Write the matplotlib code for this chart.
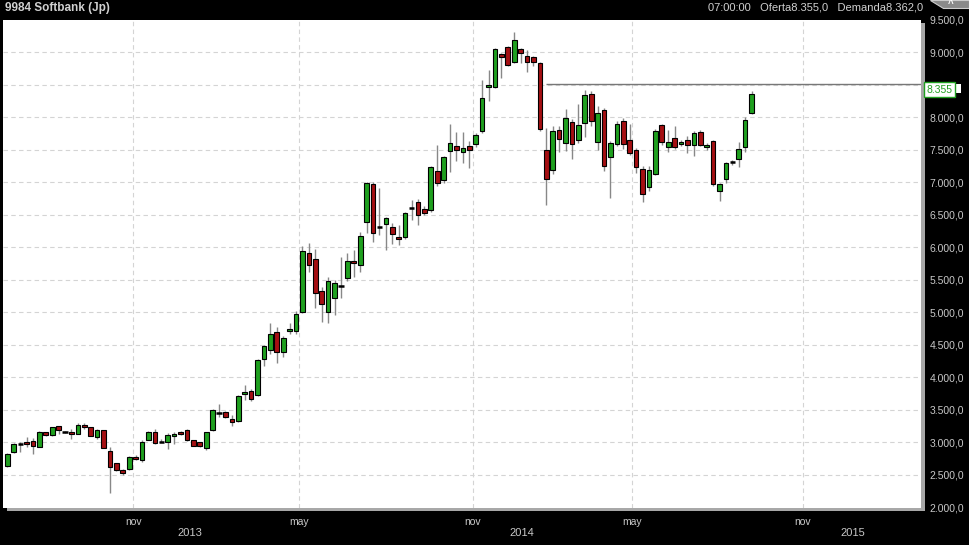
import numpy as np
import matplotlib.pyplot as plt
from matplotlib.patches import Rectangle, Polygon

plt.rcParams['font.family'] = ['Liberation Sans', 'DejaVu Sans']

# weekly candles
opens = [2643, 2847, 2970, 3000, 3015, 2924, 3153, 3107, 3245, 3163,
         3163, 3128, 3265, 3230, 3077, 3184, 2862, 2679, 2577, 2587,
         2770, 2730, 3041, 3168, 3005, 3010, 3092, 3168, 3189, 3031,
         3000, 2908, 3184, 3454, 3474, 3367, 3332, 3738, 3794, 3727,
         4276, 4420, 4692, 4384, 4713, 4718, 5000, 5908, 5826, 5333,
         5000, 5215, 5410, 5523, 5795, 5728, 6394, 6969, 6317, 6353,
         6317, 6153, 6153, 6610, 6692, 6584, 6569, 7179, 7036, 7472,
         7559, 7461, 7554, 7584, 7781, 8462, 8457, 8974, 9077, 8846,
         9051, 8944, 8923, 8831, 7500, 7182, 7807, 7602, 7925, 7643,
         7909, 8355, 7618, 8114, 7387, 7587, 7945, 7653, 7490, 7203,
         6926, 7126, 7879, 7541, 7679, 7587, 7653, 7577, 7771, 7541,
         7629, 6857, 7055, 7314, 7350, 7543, 8066]
highs = [2832, 2985, 3000, 3077, 3061, 3178, 3168, 3240, 3260, 3178,
         3214, 3306, 3301, 3235, 3199, 3190, 2934, 2690, 2592, 2791,
         2806, 3036, 3180, 3200, 3056, 3138, 3158, 3175, 3200, 3040,
         3010, 3163, 3510, 3586, 3480, 3420, 3727, 3882, 3815, 4276,
         4492, 4830, 4780, 4635, 4841, 5021, 6021, 6072, 5969, 5385,
         5549, 5497, 5856, 5918, 5959, 6241, 6995, 6995, 6913, 6472,
         6369, 6343, 6549, 6728, 6748, 6636, 7241, 7574, 7405, 7897,
         7764, 7774, 7626, 7754, 8575, 8728, 9061, 8984, 9087, 9302,
         9061, 9035, 8933, 8841, 7833, 7869, 7869, 8125, 7971, 8207,
         8422, 8396, 8176, 8140, 7628, 7935, 7986, 7899, 7526, 7244,
         7244, 7817, 7894, 7807, 7868, 7648, 7715, 7781, 7807, 7602,
         7654, 6985, 7314, 7340, 7618, 8000, 8401]
lows = [2628, 2832, 2847, 2934, 2822, 2924, 3097, 3100, 3122, 3148,
        3046, 3122, 3214, 3092, 3046, 2913, 2220, 2560, 2495, 2577,
        2730, 2705, 3030, 2970, 3000, 2893, 2970, 3110, 3025, 2940,
        2930, 2882, 3180, 3393, 3380, 3250, 3317, 3651, 3640, 3717,
        4179, 4358, 4215, 4307, 4672, 4672, 4985, 5625, 5061, 4856,
        4841, 4954, 5215, 5487, 5549, 5626, 6215, 6087, 6190, 5958,
        6046, 6036, 6122, 6420, 6343, 6497, 6549, 6944, 6984, 7149,
        7318, 7287, 7221, 7548, 7755, 8242, 8447, 8600, 8790, 8830,
        8830, 8700, 8780, 7781, 6655, 7131, 7459, 7474, 7357, 7602,
        7694, 7869, 7490, 7167, 6757, 7551, 7510, 7423, 7142, 6691,
        6860, 7116, 7577, 7459, 7510, 7551, 7449, 7403, 7551, 7490,
        6944, 6705, 6985, 7263, 7228, 7457, 8050]
closes = [2816, 2975, 2970, 2970, 2944, 3168, 3107, 3230, 3184, 3163,
          3122, 3275, 3230, 3092, 3184, 2913, 2618, 2572, 2526, 2770,
          2740, 3005, 3168, 2995, 3005, 3107, 3128, 3122, 3031, 2944,
          2939, 3153, 3505, 3454, 3388, 3321, 3717, 3779, 3661, 4266,
          4482, 4661, 4384, 4599, 4744, 4980, 5949, 5723, 5292, 5128,
          5487, 5446, 5410, 5795, 5754, 6180, 6984, 6215, 6317, 6446,
          6199, 6122, 6523, 6610, 6492, 6523, 7231, 6984, 7384, 7600,
          7492, 7523, 7492, 7723, 8293, 8498, 9051, 8923, 8800, 9189,
          8980, 8846, 8846, 7817, 7049, 7792, 7664, 7986, 7587, 7879,
          8340, 7935, 8063, 7254, 7602, 7894, 7587, 7449, 7234, 6819,
          7182, 7792, 7612, 7612, 7541, 7618, 7577, 7756, 7577, 7577,
          6969, 6969, 7289, 7314, 7517, 7949, 8355]

month_pos = [19.64, 45.5, 72.53, 97.3, 124.0]
month_lbl = ["nov", "may", "nov", "may", "nov"]
year_pos = [28.47, 80.26, 131.8]
year_lbl = ["2013", "2014", "2015"]
y_ticks = np.arange(2000, 9501, 500)
level_start = 84
level_price = 8513
last_price = 8355

W, H = 969, 545
fig = plt.figure(figsize=(W / 100, H / 100), dpi=100, facecolor="black")

# grey shadow behind the plot panel
fig.patches.append(Rectangle((7 / W, (H - 511) / H), (925 - 7) / W, (511 - 23) / H,
                             transform=fig.transFigure, facecolor="#a8a8a8",
                             edgecolor="none", zorder=-5))

ax = fig.add_axes([3 / W, (H - 507.5) / H, (921 - 3) / W, (507.5 - 19.5) / H])
ax.set_facecolor("white")
for s in ax.spines.values():
    s.set_visible(False)

x = np.arange(len(opens))
o = np.array(opens)
c = np.array(closes)
up = c > o
dn = c < o
flat = c == o

ax.vlines(x, lows, highs, color="#888888", lw=1, zorder=2)
ax.bar(x[up], (c - o)[up], bottom=o[up], width=0.72, color="#1fa01f",
       edgecolor="black", lw=0.8, zorder=3)
ax.bar(x[dn], (o - c)[dn], bottom=c[dn], width=0.72, color="#a50f12",
       edgecolor="black", lw=0.8, zorder=3)
ax.hlines(c[flat], x[flat] - 0.4, x[flat] + 0.4, color="black", lw=1.8, zorder=3)

# grid
for yv in y_ticks[1:-1]:
    ax.axhline(yv, color="#d4d4d4", lw=0.8, ls=(0, (4, 3)), zorder=1)
for xv in month_pos:
    ax.axvline(xv, color="#d4d4d4", lw=0.8, ls=(0, (4, 3)), zorder=1)

ax.set_xlim(-0.67, 142.4)
ax.set_ylim(2000, 9500)

# level line
ax.hlines(level_price, level_start, 142.4, color="#777777", lw=1, zorder=4)

# the 8.500 label sits under the price tag in the original
ylabels = [f"{v:,.0f}".replace(",", ".") + ",0" for v in y_ticks]
ylabels[list(y_ticks).index(8500)] = ""
ax.yaxis.tick_right()
ax.set_yticks(y_ticks)
ax.set_yticklabels(ylabels)
ax.tick_params(axis="y", length=0, pad=6, labelsize=7.5, labelcolor="#c8c8c8")
ax.set_xticks(month_pos)
ax.set_xticklabels(month_lbl)
ax.tick_params(axis="x", length=0, pad=7, labelsize=7.5, labelcolor="#c8c8c8")
for xv, t in zip(year_pos, year_lbl):
    ax.text(xv, -0.053, t, transform=ax.get_xaxis_transform(), ha="center",
            va="center", fontsize=8, color="#c8c8c8", clip_on=False)

# last price tag
fig.patches.append(Rectangle((954 / W, 1 - 93 / H), 7 / W, 9 / H,
                             transform=fig.transFigure, facecolor="white",
                             edgecolor="none", zorder=-1))
ax.annotate(f"{last_price:,}".replace(",", "."), xy=(1.0, last_price),
            xycoords=("axes fraction", "data"), xytext=(4, 3),
            textcoords="offset points", ha="left", va="center",
            fontsize=7.5, color="#22a022", annotation_clip=False,
            bbox=dict(boxstyle="square,pad=0.25", fc="white", ec="#22a022", lw=1))

# header
fig.text(5 / W, 1 - 8 / H, "9984 Softbank (Jp)", fontsize=8.5, weight="bold",
         color="#d0d0d0", va="center", ha="left")
fig.text(923 / W, 1 - 8 / H, "07:00:00   Oferta8.355,0   Demanda8.362,0",
         fontsize=8, color="#d0d0d0", va="center", ha="right")
fig.patches.append(Polygon([(930 / W, 1), (969 / W, 1), (969 / W, 1 - 8 / H),
                            (943 / W, 1 - 8 / H)], closed=True,
                           transform=fig.transFigure, facecolor="#8a8a8a",
                           edgecolor="#cccccc", lw=0.8))
fig.text(951 / W, 1 - 4 / H, "^", fontsize=7, color="white", ha="center",
         va="center", weight="bold")

fig.savefig("out.png", dpi=100, facecolor="black")
